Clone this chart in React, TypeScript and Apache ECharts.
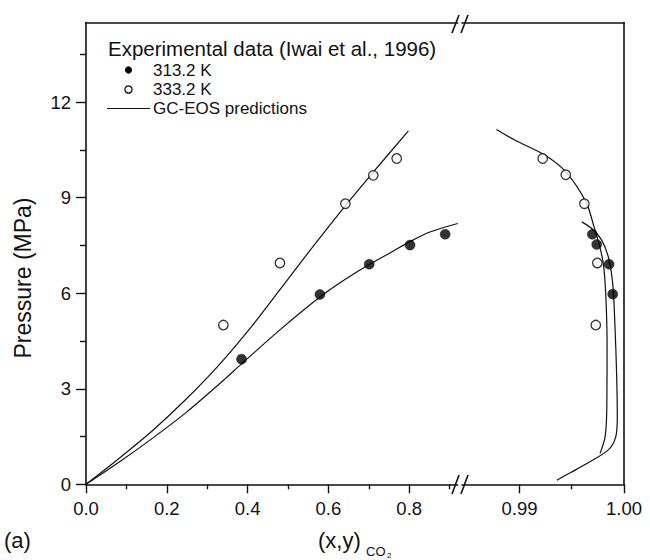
import React, { useEffect, useRef } from "react";
import * as echarts from "echarts";

// ---- experimental data (Iwai et al., 1996) ----
const exp313LiqX = [0.385, 0.579, 0.701, 0.802, 0.889];
const exp313LiqP = [3.93, 5.96, 6.91, 7.51, 7.85];
const exp333LiqX = [0.34, 0.48, 0.642, 0.711, 0.769];
const exp333LiqP = [5.0, 6.95, 8.81, 9.7, 10.23];
const exp313VapY = [0.99697, 0.99739, 0.99857, 0.99892];
const exp313VapP = [7.85, 7.53, 6.91, 5.97];
const exp333VapY = [0.99222, 0.99443, 0.99621, 0.99745, 0.9973];
const exp333VapP = [10.23, 9.72, 8.81, 6.95, 5.0];

// ---- GC-EOS predictions ----
const gc313LiqX = [0, 0.0824, 0.165, 0.2475, 0.33, 0.385, 0.48, 0.579, 0.64, 0.701, 0.76, 0.802, 0.851, 0.92];
const gc313LiqP = [0, 0.7, 1.45, 2.25, 3.15, 3.78, 4.85, 5.88, 6.42, 6.9, 7.32, 7.62, 7.92, 8.19];
const gc333LiqX = [0, 0.0824, 0.165, 0.2475, 0.33, 0.4126, 0.48, 0.5627, 0.6453, 0.711, 0.798];
const gc333LiqP = [0, 0.82, 1.69, 2.67, 3.76, 5.0, 6.11, 7.48, 8.8, 9.8, 11.1];
const gc313VapY = [0.99596, 0.99691, 0.99787, 0.9985, 0.99892, 0.99914, 0.9993, 0.99936, 0.99921, 0.9985, 0.99628, 0.9949, 0.99357];
const gc313VapP = [8.24, 8.03, 7.66, 7.14, 6.3, 4.94, 3.38, 2.12, 1.49, 1.08, 0.62, 0.37, 0.13];
const gc333VapY = [0.9878, 0.98959, 0.99245, 0.99443, 0.99637, 0.99712, 0.99765, 0.99802, 0.99825, 0.99838, 0.99835, 0.99819, 0.99771];
const gc333VapP = [11.14, 10.8, 10.33, 9.81, 8.86, 8.1, 7.5, 6.93, 5.99, 4.42, 2.33, 1.49, 0.97];

// ---- axes ----
const leftMajorTicks = [0, 0.2, 0.4, 0.6, 0.8];
const leftMinorTicks = [0.1, 0.3, 0.5, 0.7, 0.9];
const rightMajorTicks = [0.99, 1.0];
const rightMinorTicks = [0.995];
const pMajorTicks = [0, 3, 6, 9, 12];
const pMinorTicks = [1.5, 4.5, 7.5, 10.5, 13.5];
const leftRange = [0, 0.92];
const rightRange = [0.9845, 1.0];
const pRange = [0, 14.5];

const legendTitle = "Experimental data (Iwai et al., 1996)";
const legendItems = ["313.2 K", "333.2 K", "GC-EOS predictions"];

const zip = (a: number[], b: number[]) => a.map((v, i) => [v, b[i]]);

const FONT = "'Liberation Sans', Arial, Helvetica, sans-serif";
const INK = "#111";

export default function App() {
  const ref = useRef<HTMLDivElement>(null);
  useEffect(() => {
    if (!ref.current) return;
    const chart = echarts.init(ref.current, undefined, { renderer: "svg" });

    const T = 22.5;
    const H = 461.8;
    const L0 = 86;
    const W0 = 371.7;
    const L1 = 462;
    const W1 = 162;

    const line = { show: true, lineStyle: { color: INK, width: 1.6 } };
    const noLine = { show: false };
    const tick = (vals: number[], len: number) => ({
      show: true,
      length: len,
      inside: false,
      customValues: vals,
      lineStyle: { color: INK, width: 1.4 },
    });
    const label = (vals: number[], digits: number, margin: number) => ({
      show: true,
      customValues: vals,
      margin,
      color: INK,
      fontSize: 18.5,
      fontFamily: FONT,
      formatter: (v: number) => v.toFixed(digits),
    });
    const base = { type: "value" as const, splitLine: { show: false } };

    const xAxis = [
      { ...base, gridIndex: 0, position: "bottom", min: leftRange[0], max: leftRange[1], axisLine: line, axisTick: tick(leftMajorTicks, 9), axisLabel: label(leftMajorTicks, 1, 15) },
      { ...base, gridIndex: 0, position: "bottom", min: leftRange[0], max: leftRange[1], axisLine: noLine, axisTick: tick(leftMinorTicks, 5), axisLabel: { show: false } },
      { ...base, gridIndex: 0, position: "top", min: leftRange[0], max: leftRange[1], axisLine: line, axisTick: { show: false }, axisLabel: { show: false } },
      { ...base, gridIndex: 1, position: "bottom", min: rightRange[0], max: rightRange[1], axisLine: line, axisTick: tick(rightMajorTicks, 9), axisLabel: label(rightMajorTicks, 2, 15) },
      { ...base, gridIndex: 1, position: "bottom", min: rightRange[0], max: rightRange[1], axisLine: noLine, axisTick: tick(rightMinorTicks, 5), axisLabel: { show: false } },
      { ...base, gridIndex: 1, position: "top", min: rightRange[0], max: rightRange[1], axisLine: line, axisTick: { show: false }, axisLabel: { show: false } },
    ];
    const yAxis = [
      { ...base, gridIndex: 0, position: "left", min: pRange[0], max: pRange[1], axisLine: line, axisTick: tick(pMajorTicks, 10), axisLabel: label(pMajorTicks, 0, 15) },
      { ...base, gridIndex: 0, position: "left", min: pRange[0], max: pRange[1], axisLine: noLine, axisTick: tick(pMinorTicks, 6), axisLabel: { show: false } },
      { ...base, gridIndex: 1, position: "right", min: pRange[0], max: pRange[1], axisLine: line, axisTick: { show: false }, axisLabel: { show: false } },
    ];

    const curve = (data: number[][], xi: number, yi: number) => ({
      type: "line",
      xAxisIndex: xi,
      yAxisIndex: yi,
      data,
      showSymbol: false,
      smooth: 0.3,
      silent: true,
      lineStyle: { color: INK, width: 1.2 },
      z: 2,
    });
    const dots = (data: number[][], xi: number, yi: number, filled: boolean) => ({
      type: "scatter",
      xAxisIndex: xi,
      yAxisIndex: yi,
      data,
      symbol: "circle",
      symbolSize: filled ? 10 : 9.5,
      silent: true,
      itemStyle: filled
        ? { color: "#000", borderColor: "#000", borderWidth: 0.5 }
        : { color: "#fff", borderColor: "#000", borderWidth: 1.3 },
      z: 3,
    });

    const txt = (text: string, x: number, y: number, size: number, align = "left", extra: any = {}) => ({
      type: "text",
      x,
      y,
      silent: true,
      z: 10,
      ...extra,
      style: {
        text,
        fill: INK,
        fontSize: size,
        fontFamily: FONT,
        align,
        verticalAlign: "middle",
        textAlign: align,
        textVerticalAlign: "middle",
      },
    });
    const seg = (x1: number, y1: number, x2: number, y2: number, w = 1.6) => ({
      type: "line",
      silent: true,
      z: 10,
      shape: { x1, y1, x2, y2 },
      style: { stroke: INK, lineWidth: w },
    });

    const graphic = [
      // axis break marks
      seg(452, 494, 459, 475),
      seg(461, 494, 468, 475),
      seg(452, 33, 459, 15),
      seg(461, 33, 468, 15),
      // legend
      txt(legendTitle, 108, 48, 20.5),
      { type: "circle", silent: true, z: 10, shape: { cx: 128.5, cy: 70, r: 3.6 }, style: { fill: "#000" } },
      txt(legendItems[0], 153, 70, 17),
      { type: "circle", silent: true, z: 10, shape: { cx: 128.5, cy: 89.5, r: 3.6 }, style: { fill: "#fff", stroke: "#000", lineWidth: 1.2 } },
      txt(legendItems[1], 153, 89.5, 17),
      seg(107, 108.5, 150, 108.5, 1.2),
      txt(legendItems[2], 153, 108.5, 17),
      // axis titles
      txt("Pressure (MPa)", 23, 278, 23, "center", { rotation: Math.PI / 2 }),
      txt("(x,y)", 318, 540, 22),
      txt("CO", 366, 551, 13),
      txt("2", 387, 555, 8),
      txt("(a)", 4, 540, 22),
    ];

    chart.setOption({
      animation: false,
      backgroundColor: "#fff",
      grid: [
        { left: L0, top: T, width: W0, height: H, containLabel: false },
        { left: L1, top: T, width: W1, height: H, containLabel: false },
      ],
      xAxis,
      yAxis,
      series: [
        curve(zip(gc333LiqX, gc333LiqP), 0, 0),
        curve(zip(gc313LiqX, gc313LiqP), 0, 0),
        curve(zip(gc333VapY, gc333VapP), 3, 2),
        curve(zip(gc313VapY, gc313VapP), 3, 2),
        dots(zip(exp333LiqX, exp333LiqP), 0, 0, false),
        dots(zip(exp313LiqX, exp313LiqP), 0, 0, true),
        dots(zip(exp333VapY, exp333VapP), 3, 2, false),
        dots(zip(exp313VapY, exp313VapP), 3, 2, true),
      ],
      graphic,
    });
    return () => chart.dispose();
  }, []);
  return (
    <div
      ref={ref}
      style={{ position: "fixed", left: 0, top: 0, width: 650, height: 560, background: "#fff" }}
    />
  );
}
